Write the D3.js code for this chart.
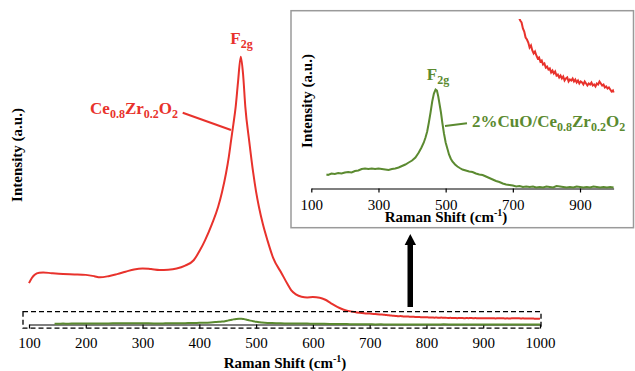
<!doctype html>
<html>
<head>
<meta charset="utf-8">
<script src="https://d3js.org/d3.v7.min.js"></script>
<style>
  body { margin: 0; background: #fff; }
</style>
</head>
<body>
<div id="chart"></div>
<script>
// Ce0.8Zr0.2O2 spectrum (red)
var ceZrShift = [100,105,110,118,125,140,160,180,200,215,225,240,255,270,285,300,315,330,345,360,375,390,401,410,422,433,440,447,452,456,460,464,468,473,477,481,488,495,500,505,512,520,530,545,555,562,570,580,590,600,612,622,632,647,660,677,690,700,710,718,722,726,730,734,738,742,746,750,754,758,762,766,770,774,778,782,786,790,794,798,802,806,810,814,818,822,826,830,834,838,842,846,850,854,858,862,866,870,874,878,882,886,890,894,898,902,906,910,914,918,922,926,930,934,938,942,946,950,954,958,962,966,970,974,978,982,986,990,994,998,1000];
var ceZrIntensity = [702,790,845,880,884,870,855,850,842,820,800,820,855,895,935,952,940,925,930,950,1000,1090,1258,1428,1700,1994,2250,2567,2850,3128,3400,3694,4100,4544,4250,3694,3100,2567,2250,1994,1700,1428,1130,867,690,578,510,470,460,465,455,420,360,280,235,205,192,185,178,171,168,166,160,157,151,149,146,141,143,138,135,137,133,130,131,127,128,124,125,121,122,119,120,116,118,115,117,113,114,111,113,110,112,108,110,111,107,109,108,110,107,109,106,108,105,107,106,104,107,105,103,105,104,106,103,104,102,105,104,107,105,103,104,101,102,100,101,99,97,98,96,97,95,94,94];

// 2%CuO/Ce0.8Zr0.2O2 spectrum (green)
var cuoShift = [145,150,160,170,180,190,200,210,220,230,240,250,260,270,280,290,300,310,320,330,340,350,360,370,380,390,400,410,420,428,435,440,445,450,455,460,465,470,474,478,482,486,490,495,500,505,510,515,520,528,535,542,550,560,570,580,590,600,610,620,630,640,650,660,670,680,690,700,710,720,730,740,750,760,770,780,790,800,810,820,830,840,850,860,870,880,890,900,910,920,930,940,950,960,970,980,990,1000];
var cuoIntensity = [14,13.5,15,14.5,15.5,15,16,16.5,16,17.5,18,19.5,20,19.5,20,19.5,20,19.5,19,18.5,19.5,20,21,22.5,24,26,28,31,36,41,46,51,57,66,76,87,95,99,98,92,84,76,66,55,46,40,34,30,27,24,22,20.5,19,18,17,16.5,15,14,13.5,12,10.5,9,7.5,6.5,5,4,3.5,3,2,2.5,1.5,2,1.5,2,1,1.5,1,2,1.5,1,2.5,2,1.5,1,1.5,1,2,1.5,1,1.5,1,2,1.5,1,1.5,1,1.5,1];

var mainTicks = [100,200,300,400,500,600,700,800,900,1000];
var insetTicks = [100,300,500,700,900];

var red = "#e8322c", green = "#5b8a30";

var svg = d3.select("#chart").append("svg")
    .attr("width", 635).attr("height", 371);

var ceZr = ceZrShift.map(function(d, i) { return [d, ceZrIntensity[i]]; });
var cuo = cuoShift.map(function(d, i) { return [d, cuoIntensity[i]]; });

/* main chart */
var x = d3.scaleLinear().domain([100, 1000]).range([29, 540]);
var y = d3.scaleLinear().domain([0, 4544]).range([324.5, 56.7]);

var mainAxis = svg.append("g")
    .attr("transform", "translate(0,324.5)")
    .call(d3.axisBottom(x).tickValues(mainTicks).tickFormat(d3.format("d"))
        .tickSize(4).tickSizeOuter(0).tickPadding(9));
mainAxis.attr("font-family", null).attr("font-size", null);
mainAxis.selectAll("text").attr("fill", "#000").style("font-size", "15px");
mainAxis.selectAll("line,path").attr("stroke", "#000").attr("stroke-width", 1.2);

var lineMain = d3.line().x(function(d) { return x(d[0]); }).y(function(d) { return y(d[1]); })
    .curve(d3.curveMonotoneX);

svg.append("path").datum(ceZr).attr("d", lineMain)
    .attr("fill", "none").attr("stroke", red).attr("stroke-width", 2);
svg.append("path").datum(cuo).attr("d", lineMain)
    .attr("fill", "none").attr("stroke", green).attr("stroke-width", 2);

// dashed zoom box
svg.append("rect").attr("x", 23).attr("y", 311.7).attr("width", 518).attr("height", 16.5)
    .attr("fill", "none").attr("stroke", "#000").attr("stroke-width", 1.3)
    .attr("stroke-dasharray", "5,3");

// arrow
svg.append("rect").attr("x", 407.5).attr("y", 243).attr("width", 5.5).attr("height", 64).attr("fill", "#000");
svg.append("path").attr("d", "M404.7,245 L410.3,234 L416,245 Z").attr("fill", "#000");

svg.append("text").attr("x", 285).attr("y", 368).attr("text-anchor", "middle")
    .attr("font-size", 15).attr("font-weight", "bold")
    .html('Raman Shift (cm<tspan dy="-6" font-size="10">-1</tspan><tspan dy="6">)</tspan>');

svg.append("text").attr("transform", "translate(22,155) rotate(-90)").attr("text-anchor", "middle")
    .attr("font-size", 15).attr("font-weight", "bold").text("Intensity (a.u.)");

// labels main
svg.append("text").attr("x", 241.5).attr("y", 43.5).attr("text-anchor", "middle")
    .attr("font-size", 17).attr("font-weight", "bold").attr("fill", red)
    .html('F<tspan dy="4" font-size="12">2g</tspan>');
svg.append("text").attr("x", 178).attr("y", 113.5).attr("text-anchor", "end")
    .attr("font-size", 17).attr("font-weight", "bold").attr("fill", red)
    .html('Ce<tspan dy="4" font-size="12">0.8</tspan><tspan dy="-4">Zr</tspan><tspan dy="4" font-size="12">0.2</tspan><tspan dy="-4">O</tspan><tspan dy="4" font-size="12">2</tspan>');
svg.append("line").attr("x1", 182.7).attr("y1", 112.7).attr("x2", 231).attr("y2", 130)
    .attr("stroke", red).attr("stroke-width", 2);

/* inset */
svg.append("rect").attr("x", 291).attr("y", 10.7).attr("width", 342.5).attr("height", 217)
    .attr("fill", "#fff").attr("stroke", "#9a9a9a").attr("stroke-width", 1.5);

var xi = d3.scaleLinear().domain([100, 1000]).range([311.3, 613.6]);
var yi = d3.scaleLinear().domain([0, 169.5]).range([188.5, 19]);

svg.append("clipPath").attr("id", "insetClip").append("rect")
    .attr("x", 311).attr("y", 19).attr("width", 305).attr("height", 171);

var insetAxis = svg.append("g")
    .attr("transform", "translate(0,188.5)")
    .call(d3.axisBottom(xi).tickValues(insetTicks).tickSize(4).tickSizeOuter(0).tickPadding(7));
insetAxis.attr("font-family", null).attr("font-size", null);
insetAxis.selectAll("text").attr("fill", "#000").style("font-size", "15px");
insetAxis.selectAll("line,path").attr("stroke", "#000").attr("stroke-width", 1.2);

var lineInset = d3.line().x(function(d) { return xi(d[0]); }).y(function(d) { return yi(d[1]); });

var insetG = svg.append("g").attr("clip-path", "url(#insetClip)");
insetG.append("path").datum(ceZr.filter(function(d) { return d[0] >= 690; })).attr("d", lineInset)
    .attr("fill", "none").attr("stroke", red).attr("stroke-width", 2);
insetG.append("path").datum(cuo).attr("d", lineInset)
    .attr("fill", "none").attr("stroke", green).attr("stroke-width", 2);

svg.append("text").attr("x", 446).attr("y", 222).attr("text-anchor", "middle")
    .attr("font-size", 15).attr("font-weight", "bold")
    .html('Raman Shift (cm<tspan dy="-6" font-size="10">-1</tspan><tspan dy="6">)</tspan>');
svg.append("text").attr("transform", "translate(311.5,101) rotate(-90)").attr("text-anchor", "middle")
    .attr("font-size", 15).attr("font-weight", "bold").text("Intensity (a.u.)");

svg.append("text").attr("x", 438).attr("y", 80).attr("text-anchor", "middle")
    .attr("font-size", 17).attr("font-weight", "bold").attr("fill", green)
    .html('F<tspan dy="4" font-size="12">2g</tspan>');
svg.append("text").attr("x", 472).attr("y", 126.5)
    .attr("font-size", 17).attr("font-weight", "bold").attr("fill", green)
    .html('2%CuO/Ce<tspan dy="4" font-size="12">0.8</tspan><tspan dy="-4">Zr</tspan><tspan dy="4" font-size="12">0.2</tspan><tspan dy="-4">O</tspan><tspan dy="4" font-size="12">2</tspan>');
svg.append("line").attr("x1", 445).attr("y1", 126).attr("x2", 467).attr("y2", 123.3)
    .attr("stroke", green).attr("stroke-width", 2);

// serif everywhere
svg.selectAll("text").style("font-family", "'Liberation Serif'");
</script>
</body>
</html>
